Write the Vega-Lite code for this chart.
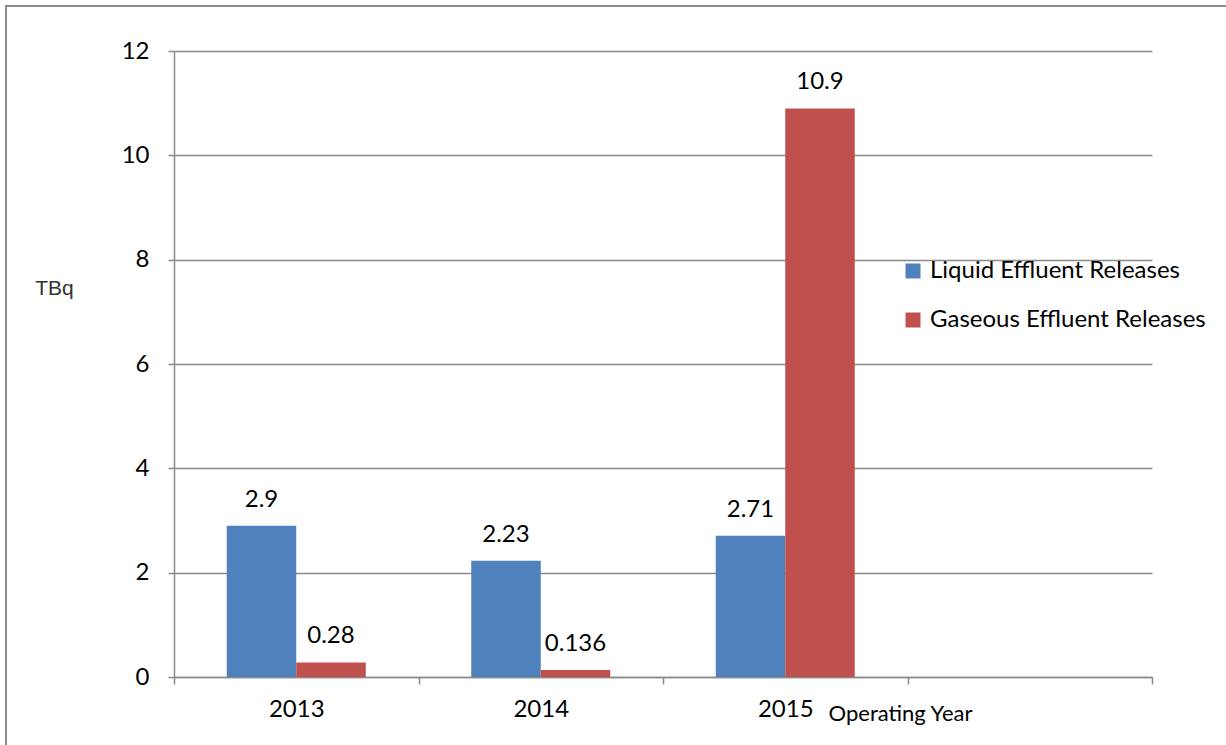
{
  "$schema": "https://vega.github.io/schema/vega-lite/v6.json",
  "width": 1222,
  "height": 741,
  "autosize": {"type": "none"},
  "padding": {"left": 6, "top": 6, "right": 0, "bottom": 0},
  "background": "white",
  "config": {
    "view": {"stroke": "#8a8a8a", "strokeWidth": 2},
    "font": "Lato"
  },
  "data": {
    "values": [
      {"year": "2013", "series": "Liquid Effluent Releases", "value": 2.9},
      {"year": "2013", "series": "Gaseous Effluent Releases", "value": 0.28},
      {"year": "2014", "series": "Liquid Effluent Releases", "value": 2.23},
      {"year": "2014", "series": "Gaseous Effluent Releases", "value": 0.136},
      {"year": "2015", "series": "Liquid Effluent Releases", "value": 2.71},
      {"year": "2015", "series": "Gaseous Effluent Releases", "value": 10.9}
    ]
  },
  "encoding": {
    "x": {
      "field": "year",
      "type": "nominal",
      "scale": {"domain": ["2013", "2014", "2015", " "], "range": [168, 1146], "paddingInner": 0, "paddingOuter": 0},
      "axis": {
        "offset": -70,
        "tickBand": "extent",
        "tickSize": 7,
        "tickColor": "#8a8a8a",
        "tickWidth": 1.5,
        "domainColor": "#8a8a8a",
        "domainWidth": 1.5,
        "grid": false,
        "labelFont": "Lato",
        "labelFontSize": 24,
        "labelColor": "black",
        "labelPadding": 13,
        "labelAngle": 0,
        "title": "Operating Year",
        "titleX": 894,
        "titleY": 43,
        "titleAlign": "center",
        "titleBaseline": "alphabetic",
        "titleFont": "Lato",
        "titleFontSize": 22,
        "titleFontWeight": "normal",
        "titleColor": "black"
      }
    },
    "xOffset": {
      "field": "series",
      "type": "nominal",
      "sort": ["Liquid Effluent Releases", "Gaseous Effluent Releases"],
      "scale": {"paddingOuter": 0.759, "paddingInner": 0}
    },
    "y": {
      "field": "value",
      "type": "quantitative",
      "scale": {"domain": [0, 12], "range": [671, 45], "nice": false},
      "axis": {
        "values": [0, 2, 4, 6, 8, 10, 12],
        "offset": -168,
        "grid": true,
        "gridColor": "#8a8a8a",
        "gridWidth": 1.5,
        "domainColor": "#8a8a8a",
        "domainWidth": 1.5,
        "tickColor": "#8a8a8a",
        "tickWidth": 1.5,
        "tickSize": 6,
        "labelFont": "Lato",
        "labelFontSize": 24,
        "labelColor": "black",
        "labelPadding": 19,
        "title": "TBq",
        "titleAngle": 0,
        "titleX": -120,
        "titleY": 288,
        "titleAlign": "center",
        "titleBaseline": "alphabetic",
        "titleFont": "Liberation Sans",
        "titleFontSize": 21,
        "titleFontWeight": "normal",
        "titleColor": "#333333"
      }
    }
  },
  "layer": [
    {
      "mark": {"type": "bar"},
      "encoding": {
        "color": {
          "field": "series",
          "type": "nominal",
          "scale": {"domain": ["Liquid Effluent Releases", "Gaseous Effluent Releases"], "range": ["#4F81BD", "#C0504D"]},
          "legend": {
            "orient": "none",
            "legendX": 895,
            "legendY": 253,
            "title": null,
            "symbolType": "square",
            "symbolSize": 225,
            "symbolStrokeWidth": 0,
            "symbolOpacity": 1,
            "labelFont": "Lato",
            "labelFontSize": 24,
            "labelColor": "black",
            "labelOffset": 5,
            "labelLimit": 500,
            "rowPadding": 25,
            "padding": 0
          }
        }
      }
    },
    {
      "mark": {"type": "text", "baseline": "alphabetic", "dy": -19, "fontSize": 24, "font": "Lato", "color": "black"},
      "encoding": {
        "text": {"field": "value", "type": "quantitative", "format": "~g"}
      }
    }
  ]
}
